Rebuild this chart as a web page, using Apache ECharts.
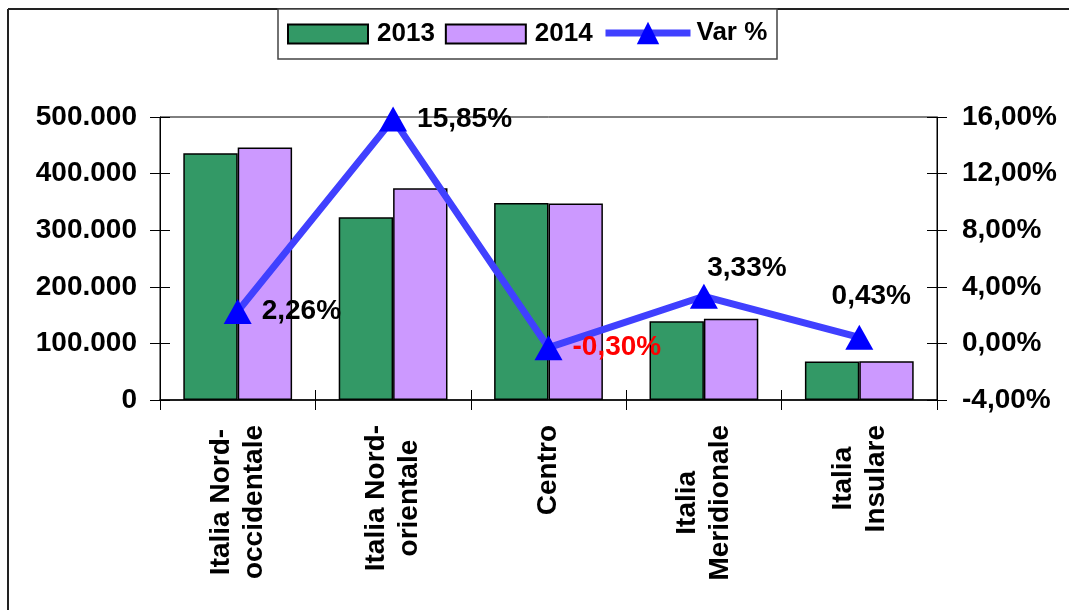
<!DOCTYPE html>
<html>
<head>
<meta charset="utf-8">
<script src="https://cdn.jsdelivr.net/npm/echarts@6/dist/echarts.min.js"></script>
<style>
html,body{margin:0;padding:0;background:#fff;}
#chart{width:1069px;height:610px;}
</style>
</head>
<body>
<div id="chart"></div>
<script>
const categories = ['Italia Nord-\noccidentale', 'Italia Nord-\norientale', 'Centro', 'Italia\nMeridionale', 'Italia\nInsulare'];
const values2013 = [436000, 323000, 348000, 139000, 68000];
const values2014 = [446000, 374000, 347000, 143500, 68300];
const varPct = [2.26, 15.85, -0.30, 3.33, 0.43];
const leftTicks = { min: 0, max: 500000, interval: 100000 };
const rightTicks = { min: -4, max: 16, interval: 4 };

// label placement styles (not data)
const labelPlacement = [
  { position: 'right', distance: 10, offset: [0, 0] },
  { position: 'right', distance: 10, offset: [0, 0] },
  { position: 'right', distance: 10, offset: [0, 0] },
  { position: 'top', distance: 1, offset: [43, 0] },
  { position: 'top', distance: 15, offset: [12, 0] }
];

const FONT = '"Liberation Sans", Arial, sans-serif';

function fmtThousands(v) {
  return String(Math.round(v)).replace(/\B(?=(\d{3})+(?!\d))/g, '.');
}
function fmtPct(v) {
  return v.toFixed(2).replace('.', ',') + '%';
}

const chart = echarts.init(document.getElementById('chart'));

const lineData = varPct.map((v, i) => ({
  value: v,
  label: {
    show: true,
    position: labelPlacement[i].position,
    distance: labelPlacement[i].distance,
    offset: labelPlacement[i].offset,
    color: v < 0 ? '#ff0000' : '#000000'
  }
}));

const tickCommon = { show: true, length: 10, lineStyle: { color: '#000', width: 1 } };
const legendText = { fontFamily: FONT, fontSize: 26, fontWeight: 'bold', color: '#000', padding: [0, 0, 0, 4] };

chart.setOption({
  animation: false,
  backgroundColor: '#fff',
  textStyle: { fontFamily: FONT },
  graphic: [
    { type: 'line', shape: { x1: 8, y1: 9, x2: 1069, y2: 9 }, style: { stroke: '#222', lineWidth: 2 }, z: 0 },
    { type: 'line', shape: { x1: 8, y1: 9, x2: 8, y2: 610 }, style: { stroke: '#222', lineWidth: 2 }, z: 0 },
    { type: 'rect', shape: { x: 278, y: 9, width: 499, height: 50 }, style: { fill: '#fff', stroke: '#444', lineWidth: 1.5 }, z: 0 }
  ],
  legend: [
    {
      left: 287,
      top: 21,
      padding: 0,
      itemGap: 10,
      itemWidth: 80,
      itemHeight: 19,
      icon: 'rect',
      textStyle: legendText,
      data: ['2013', '2014']
    },
    {
      left: 602,
      top: 20,
      padding: 0,
      itemWidth: 85,
      itemHeight: 28,
      textStyle: { fontFamily: FONT, fontSize: 26, fontWeight: 'bold', color: '#000', padding: [0, 0, 0, 1] },
      lineStyle: { width: 7, color: '#4040ff' },
      data: ['Var %']
    }
  ],
  grid: {
    left: 160, right: 132, top: 117, bottom: 210,
    show: true, borderColor: '#000', borderWidth: 1, backgroundColor: 'transparent'
  },
  xAxis: [
    {
      type: 'category',
      data: categories,
      position: 'bottom',
      axisLine: { show: true, onZero: false, lineStyle: { color: '#000', width: 1.5 } },
      axisTick: Object.assign({}, tickCommon, { inside: false }),
      axisLabel: {
        rotate: 90,
        margin: 25,
        interval: 0,
        fontFamily: FONT,
        fontSize: 28,
        fontWeight: 'bold',
        color: '#000',
        lineHeight: 33,
        formatter: function (v) {
          return v.split('\n').map(s => '{c|' + s + '}').join('\n');
        },
        rich: { c: { align: 'center', fontFamily: FONT, fontSize: 28, fontWeight: 'bold', color: '#000', lineHeight: 33 } }
      }
    },
    {
      type: 'category',
      data: categories,
      position: 'bottom',
      axisLine: { show: false, onZero: false },
      axisTick: Object.assign({}, tickCommon, { inside: true }),
      axisLabel: { show: false }
    }
  ],
  yAxis: [
    {
      type: 'value', position: 'left',
      min: leftTicks.min, max: leftTicks.max, interval: leftTicks.interval,
      axisLine: { show: true, lineStyle: { color: '#000', width: 1 } },
      axisTick: Object.assign({}, tickCommon, { inside: false }),
      splitLine: { show: false },
      axisLabel: { margin: 23, fontFamily: FONT, fontSize: 28, fontWeight: 'bold', color: '#000', formatter: fmtThousands }
    },
    {
      type: 'value', position: 'right',
      min: rightTicks.min, max: rightTicks.max, interval: rightTicks.interval,
      axisLine: { show: true, lineStyle: { color: '#000', width: 1 } },
      axisTick: Object.assign({}, tickCommon, { inside: false }),
      splitLine: { show: false },
      axisLabel: { margin: 25, fontFamily: FONT, fontSize: 28, fontWeight: 'bold', color: '#000', formatter: fmtPct }
    },
    {
      type: 'value', position: 'left',
      min: leftTicks.min, max: leftTicks.max, interval: leftTicks.interval,
      axisLine: { show: false },
      axisTick: Object.assign({}, tickCommon, { inside: true }),
      splitLine: { show: false },
      axisLabel: { show: false }
    },
    {
      type: 'value', position: 'right',
      min: rightTicks.min, max: rightTicks.max, interval: rightTicks.interval,
      axisLine: { show: false },
      axisTick: Object.assign({}, tickCommon, { inside: true }),
      splitLine: { show: false },
      axisLabel: { show: false }
    }
  ],
  series: [
    {
      name: '2013', type: 'bar', xAxisIndex: 0, yAxisIndex: 0,
      data: values2013,
      barGap: '0%', barCategoryGap: '30%',
      itemStyle: { color: '#339966', borderColor: '#000', borderWidth: 1.5 }
    },
    {
      name: '2014', type: 'bar', xAxisIndex: 0, yAxisIndex: 0,
      data: values2014,
      barGap: '0%', barCategoryGap: '30%',
      itemStyle: { color: '#cc99ff', borderColor: '#000', borderWidth: 1.5 }
    },
    {
      name: 'Var %', type: 'line', xAxisIndex: 0, yAxisIndex: 1,
      data: lineData,
      symbol: 'triangle',
      symbolSize: [28, 25],
      z: 5,
      lineStyle: { color: '#4040ff', width: 7 },
      itemStyle: { color: '#0000ff' },
      label: {
        show: true,
        fontFamily: FONT, fontSize: 28, fontWeight: 'bold',
        formatter: p => fmtPct(p.value)
      }
    }
  ]
});
</script>
</body>
</html>
